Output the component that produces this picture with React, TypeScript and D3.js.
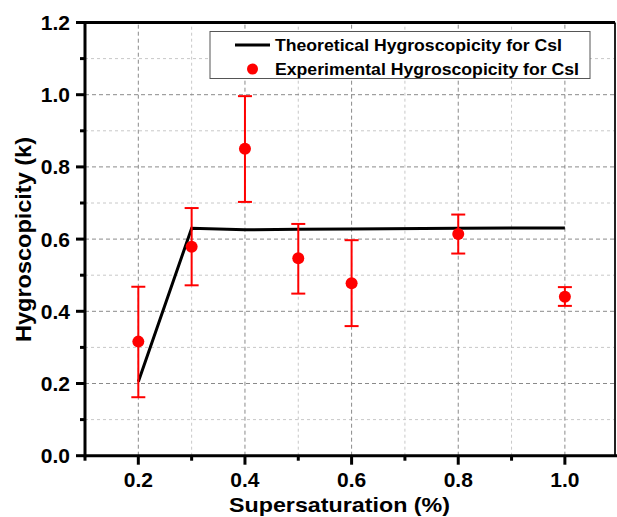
import React from "react";
import * as d3 from "d3";

const ssX = [0.2, 0.3, 0.4, 0.5, 0.6, 0.8, 1.0];
const expK = [0.316, 0.579, 0.85, 0.547, 0.478, 0.614, 0.44];
const expLow = [0.162, 0.472, 0.703, 0.449, 0.359, 0.56, 0.415];
const expHigh = [0.468, 0.686, 0.996, 0.642, 0.597, 0.668, 0.467];
const theoK = [0.205, 0.63, 0.626, 0.627, 0.628, 0.63, 0.631];
const xTicks = [0.2, 0.4, 0.6, 0.8, 1.0];
const xMinor = [0.1, 0.3, 0.5, 0.7, 0.9];
const yTicks = [0.0, 0.2, 0.4, 0.6, 0.8, 1.0, 1.2];
const yMinor = [0.1, 0.3, 0.5, 0.7, 0.9, 1.1];
const legendLabels = ["Theoretical Hygroscopicity for CsI", "Experimental Hygroscopicity for CsI"];

export default function App() {
  const W = 617, H = 517;
  const x = d3.scaleLinear().domain([0.1, 1.094]).range([85, 615]);
  const y = d3.scaleLinear().domain([0, 1.2]).range([455.7, 22.5]);
  const [x0, x1] = x.range();
  const [y0, y1] = y.range();
  const line = d3.line<number>().x((_, i) => x(ssX[i])).y((d) => y(d));
  const font = "'Liberation Sans', Arial, sans-serif";
  return (
    <svg width={W} height={H} style={{ position: "absolute", left: 0, top: 0 }} fontFamily={font}>
      <rect x={0} y={0} width={W} height={H} fill="white" />
      {/* grid */}
      {xMinor.filter((v) => v > 0.15).map((v) => (
        <line key={"gxm" + v} x1={x(v)} x2={x(v)} y1={y0} y2={y1} stroke="#c8c8c8" strokeWidth={1} strokeDasharray="3,3" />
      ))}
      {yMinor.map((v) => (
        <line key={"gym" + v} x1={x0} x2={x1} y1={y(v)} y2={y(v)} stroke="#c8c8c8" strokeWidth={1} strokeDasharray="3,3" />
      ))}
      {xTicks.map((v) => (
        <line key={"gx" + v} x1={x(v)} x2={x(v)} y1={y0} y2={y1} stroke="#8a8a8a" strokeWidth={1} strokeDasharray="4,3" />
      ))}
      {yTicks.filter((v) => v > 0 && v < 1.2).map((v) => (
        <line key={"gy" + v} x1={x0} x2={x1} y1={y(v)} y2={y(v)} stroke="#8a8a8a" strokeWidth={1} strokeDasharray="4,3" />
      ))}
      {/* theoretical line */}
      <path d={line(theoK) || ""} fill="none" stroke="black" strokeWidth={3} />
      {/* error bars */}
      {ssX.map((v, i) => (
        <g key={"e" + i} stroke="red" strokeWidth={2}>
          <line x1={x(v)} x2={x(v)} y1={y(expLow[i])} y2={y(expHigh[i])} />
          <line x1={x(v) - 7} x2={x(v) + 7} y1={y(expLow[i])} y2={y(expLow[i])} />
          <line x1={x(v) - 7} x2={x(v) + 7} y1={y(expHigh[i])} y2={y(expHigh[i])} />
        </g>
      ))}
      {ssX.map((v, i) => (
        <circle key={"p" + i} cx={x(v)} cy={y(expK[i])} r={6} fill="red" />
      ))}
      {/* frame */}
      <line x1={x1} x2={x1} y1={y0} y2={y1} stroke="#222" strokeWidth={2} />
      <line x1={x0} x2={x1} y1={y1} y2={y1} stroke="black" strokeWidth={3} />
      <line x1={x0} x2={x1 + 2} y1={y0} y2={y0} stroke="black" strokeWidth={3} />
      <line x1={x0} x2={x0} y1={y0 + 1.5} y2={y1 - 1.5} stroke="black" strokeWidth={3} />
      {/* y ticks */}
      {yTicks.map((v) => (
        <g key={"yt" + v}>
          <line x1={x0 - 9} x2={x0} y1={y(v)} y2={y(v)} stroke="black" strokeWidth={3} />
          <text x={x0 - 15} y={y(v)} dy="0.36em" textAnchor="end" fontSize={21} fontWeight="bold">{v.toFixed(1)}</text>
        </g>
      ))}
      {yMinor.map((v) => (
        <line key={"ytm" + v} x1={x0 - 5} x2={x0} y1={y(v)} y2={y(v)} stroke="black" strokeWidth={3} />
      ))}
      {/* x ticks */}
      {xTicks.map((v) => (
        <g key={"xt" + v}>
          <line x1={x(v)} x2={x(v)} y1={y0} y2={y0 + 9} stroke="black" strokeWidth={3} />
          <text x={x(v)} y={487} textAnchor="middle" fontSize={21} fontWeight="bold">{v.toFixed(1)}</text>
        </g>
      ))}
      {xMinor.map((v) => (
        <line key={"xtm" + v} x1={x(v)} x2={x(v)} y1={y0} y2={y0 + 5} stroke="black" strokeWidth={3} />
      ))}
      {/* axis titles */}
      <text x={229} y={512} fontSize={21} fontWeight="bold" textLength={221} lengthAdjust="spacingAndGlyphs">Supersaturation (%)</text>
      <text transform="translate(31,342) rotate(-90)" fontSize={22} fontWeight="bold" textLength={205} lengthAdjust="spacingAndGlyphs">Hygroscopicity (k)</text>
      {/* legend */}
      <rect x={210} y={31.5} width={380} height={47} fill="white" stroke="#555" strokeWidth={1} />
      <line x1={235} x2={270} y1={45} y2={45} stroke="black" strokeWidth={3} />
      <circle cx={252.5} cy={69} r={5.5} fill="red" />
      <text x={275} y={45} dy="0.36em" fontSize={16.5} fontWeight="bold" textLength={287} lengthAdjust="spacingAndGlyphs">{legendLabels[0]}</text>
      <text x={275} y={69} dy="0.36em" fontSize={16.5} fontWeight="bold" textLength={304} lengthAdjust="spacingAndGlyphs">{legendLabels[1]}</text>
    </svg>
  );
}
